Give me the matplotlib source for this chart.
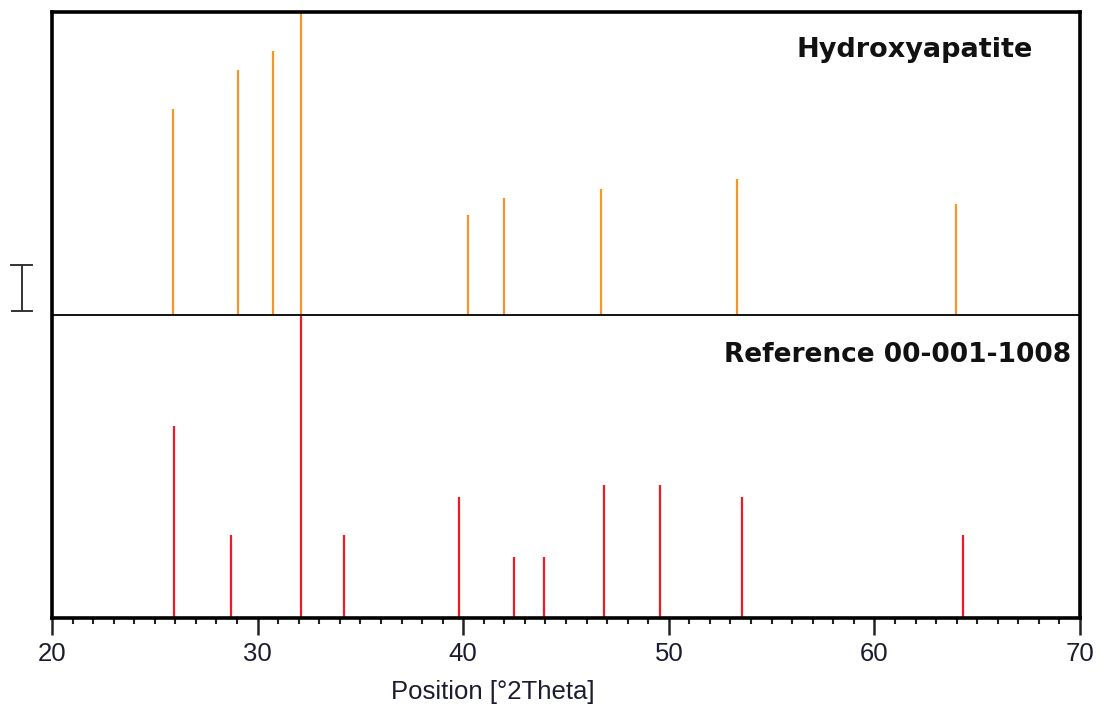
import matplotlib.pyplot as plt
from matplotlib.lines import Line2D

# peak positions [deg 2Theta] and relative heights [%]
hap_pos = [25.9, 29.05, 30.75, 32.1, 40.25, 42.0, 46.7, 53.3, 63.95]
hap_int = [68, 81, 87, 100, 33, 38.5, 41.5, 45, 36.5]

ref_pos = [25.95, 28.7, 32.1, 34.2, 39.8, 42.45, 43.95, 46.85, 49.55, 53.55, 64.3]
ref_int = [63.5, 27.5, 100, 27.5, 40, 20, 20, 44, 44, 40, 27.5]

fig = plt.figure(figsize=(11.04, 7.11), dpi=100)
ax = fig.add_axes([52/1104, 1 - 618/711, 1028/1104, 606/711])

# top panel sits between y=1 and y=2, bottom panel between 0 and 1
ax.vlines(hap_pos, 1, [1 + h/100 for h in hap_int], color='#f5952a', lw=1.6)
ax.vlines(ref_pos, 0, [h/100 for h in ref_int], color='#ee1b24', lw=1.6)
ax.axhline(1, color='black', lw=1.3)

ax.set_xlim(20, 70)
ax.set_ylim(0, 2)
ax.set_yticks([])
ax.set_xticks(range(20, 71, 10))
ax.set_xticks(range(20, 71, 1), minor=True)
ax.tick_params(axis='x', which='major', direction='out', length=12, width=1.8,
               color='#222222', labelsize=18.5, labelcolor='#1c1c30', pad=5)
ax.tick_params(axis='x', which='minor', direction='out', length=4.5, width=1.5,
               color='#222222')
for s in ax.spines.values():
    s.set_linewidth(2.6)
    s.set_color('black')

for t in ax.get_xticklabels():
    t.set_family('Liberation Sans')
ax.set_xlabel('Position [°2Theta]', fontsize=18.5, family='Liberation Sans',
              color='#1c1c30')
ax.xaxis.set_label_coords(0.429, -0.102)

ax.text(1033, 711 - 50, 'Hydroxyapatite', transform=None, ha='right', va='center',
        fontsize=19.5, fontweight='bold', color='#111111')
ax.text(1071, 711 - 355, 'Reference 00-001-1008', transform=None, ha='right',
        va='center', fontsize=19, fontweight='bold', color='#111111')

# scale bar on the left
for xs, ys in [([22, 22], [265, 311]), ([11, 32], [265, 265]), ([12, 32], [311, 311])]:
    fig.add_artist(Line2D([x/1104 for x in xs], [1 - y/711 for y in ys],
                          transform=fig.transFigure, color='#333333', lw=1.4))

fig.savefig('out.png', dpi=100)
